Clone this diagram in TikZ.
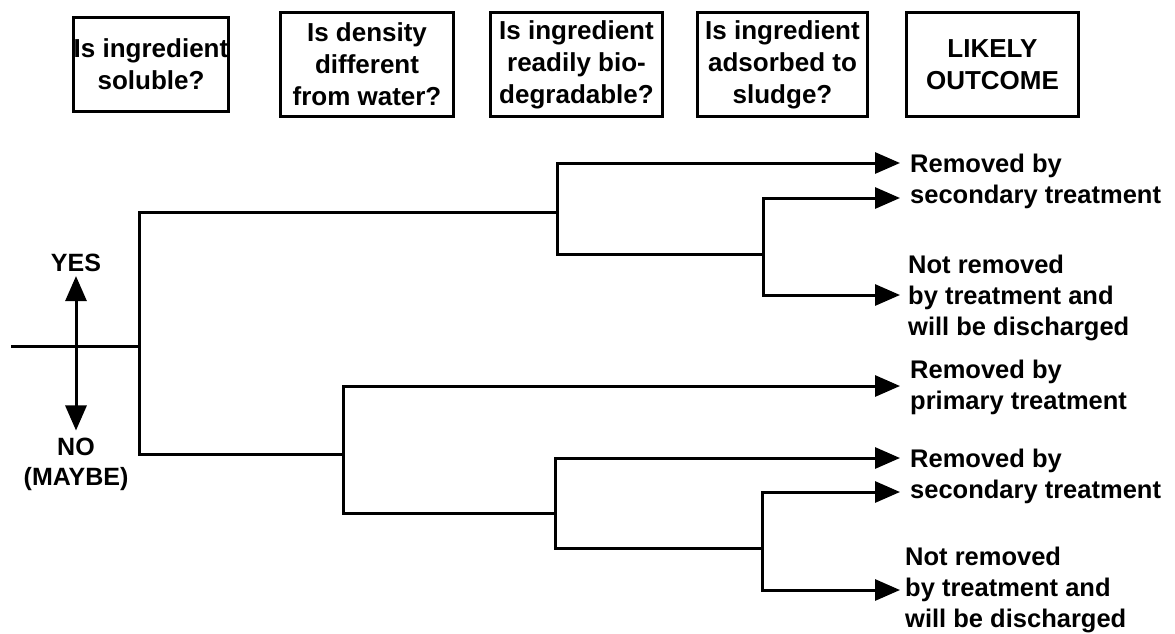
\documentclass[tikz,border=0pt]{standalone}
\usepackage{fontspec}
\setmainfont{Liberation Sans}
\usetikzlibrary{arrows.meta}

\begin{document}
\begin{tikzpicture}[x=1pt, y=-1pt,
    question/.style={draw, rectangle, line width=3pt, inner sep=0pt, align=center,
        font=\bfseries\fontsize{26}{32}\selectfont},
    outcome/.style={anchor=west, inner sep=0pt, align=left,
        font=\bfseries\fontsize{25.5}{31}\selectfont},
    answer/.style={inner sep=0pt, align=center,
        font=\bfseries\fontsize{25}{30}\selectfont},
    branch/.style={line width=3pt},
    result/.style={line width=3pt, -{Triangle[length=25pt,width=21pt]}}]
            \useasboundingbox (0,0) rectangle (1175,633);

            % Question boxes
            \node[question, minimum width=155, minimum height=94] (soluble) at (151,64.5) {Is ingredient\\soluble?};
            \node[question, minimum width=173, minimum height=104] (density) at (367,64.5) {Is density\\different\\from water?};
            \node[question, minimum width=172, minimum height=104] (biodeg) at (576.5,64.5) {Is ingredient\\readily bio-\\degradable?};
            \node[question, minimum width=170, minimum height=104] (sludge) at (782.5,64.5) {Is ingredient\\adsorbed to\\sludge?};
            \node[question, minimum width=172, minimum height=104] (likely) at (992.5,64.5) {LIKELY\\OUTCOME};

            % Yes / No
            \node[answer] (yes) at (76,263) {YES};
            \node[answer] (no) at (76,464) {NO\\(MAYBE)};
            \draw[line width=3pt, {Triangle[length=25pt,width=21pt]}-{Triangle[length=25pt,width=21pt]},
                shorten <=4pt, shorten >=7pt] (yes.south) -- (no.north);

            % Branch points
            \coordinate (start) at (11,346);
            \coordinate (q1) at (139,346);
            \coordinate (q3a) at (557,212);
            \coordinate (q4a) at (763,254);
            \coordinate (q2b) at (343,454);
            \coordinate (q3b) at (555,513);
            \coordinate (q4b) at (762,548);

            % Arrow tips
            \coordinate (t1) at (900,163);
            \coordinate (t2) at (900,198);
            \coordinate (t3) at (900,295);
            \coordinate (t4) at (900,386);
            \coordinate (t5) at (900,458);
            \coordinate (t6) at (900,492);
            \coordinate (t7) at (900,590);

            % Outcomes
            \node[outcome] (sec1) at (910,181) {Removed by\\secondary treatment};
            \node[outcome] (dis1) at (908,298) {Not removed\\by treatment and\\will be discharged};
            \node[outcome] (prim) at (910,387) {Removed by\\primary treatment};
            \node[outcome] (sec2) at (910,476) {Removed by\\secondary treatment};
            \node[outcome] (dis2) at (905,590) {Not removed\\by treatment and\\will be discharged};

            % Tree
            \draw[branch] (start) -- (q1);
            \draw[branch] (q1) |- (q3a);
            \draw[branch] (q1) |- (q2b);

            \draw[result] (q3a) |- (t1);
            \draw[branch] (q3a) |- (q4a);
            \draw[result] (q4a) |- (t2);
            \draw[result] (q4a) |- (t3);

            \draw[result] (q2b) |- (t4);
            \draw[branch] (q2b) |- (q3b);
            \draw[result] (q3b) |- (t5);
            \draw[branch] (q3b) |- (q4b);
            \draw[result] (q4b) |- (t6);
            \draw[result] (q4b) |- (t7);
        \end{tikzpicture}
\end{document}
